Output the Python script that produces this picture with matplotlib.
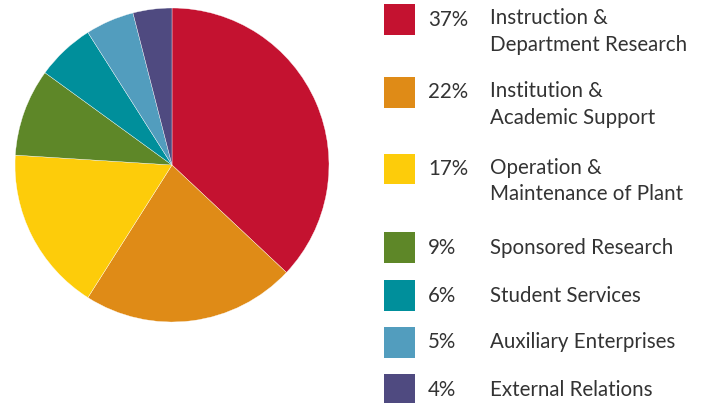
import matplotlib
matplotlib.use("Agg")
import matplotlib.pyplot as plt
from matplotlib.patches import Rectangle

labels = ["Instruction &\nDepartment Research", "Institution &\nAcademic Support",
          "Operation &\nMaintenance of Plant", "Sponsored Research", "Student Services",
          "Auxiliary Enterprises", "External Relations"]
values = [37, 22, 17, 9, 6, 5, 4]
colors = ["#C41230", "#DF8B17", "#FDCC0A", "#5E8728", "#008F9B", "#529DBE", "#4F4A80"]

W, H = 711, 403
fig = plt.figure(figsize=(W / 100, H / 100), dpi=100)
fig.patch.set_facecolor("white")

cx, cy, r = 172, 165, 157
ax = fig.add_axes([(cx - r) / W, 1 - (cy + r) / H, 2 * r / W, 2 * r / H])
ax.pie(values, colors=colors, startangle=90, counterclock=False, radius=1,
       wedgeprops=dict(edgecolor="white", linewidth=0.25))
ax.set_xlim(-1, 1)
ax.set_ylim(-1, 1)
ax.set_aspect("equal")
ax.axis("off")

row_y = [19.5, 92.5, 169, 247.5, 295.5, 342.5, 390]
txt_color = "#333333"
fs = 14.8
for lab, v, c, y in zip(labels, values, colors, row_y):
    fig.patches.append(Rectangle(((384) / W, 1 - (y + 15.5) / H), 31 / W, 31 / H,
                                 transform=fig.transFigure, facecolor=c, edgecolor="none"))
    fig.text(428 / W, 1 - y / H, f"{v}%", fontsize=fs, color=txt_color,
             family="Lato", va="center", ha="left")
    if "\n" in lab:
        l1, l2 = lab.split("\n")
        fig.text(490 / W, 1 - (y - 1.5) / H, l1, fontsize=fs, color=txt_color,
                 family="Lato", va="center", ha="left")
        fig.text(490 / W, 1 - (y + 25.5) / H, l2, fontsize=fs, color=txt_color,
                 family="Lato", va="center", ha="left")
    else:
        fig.text(490 / W, 1 - y / H, lab, fontsize=fs, color=txt_color,
                 family="Lato", va="center", ha="left")

fig.savefig("out.png", dpi=100)
